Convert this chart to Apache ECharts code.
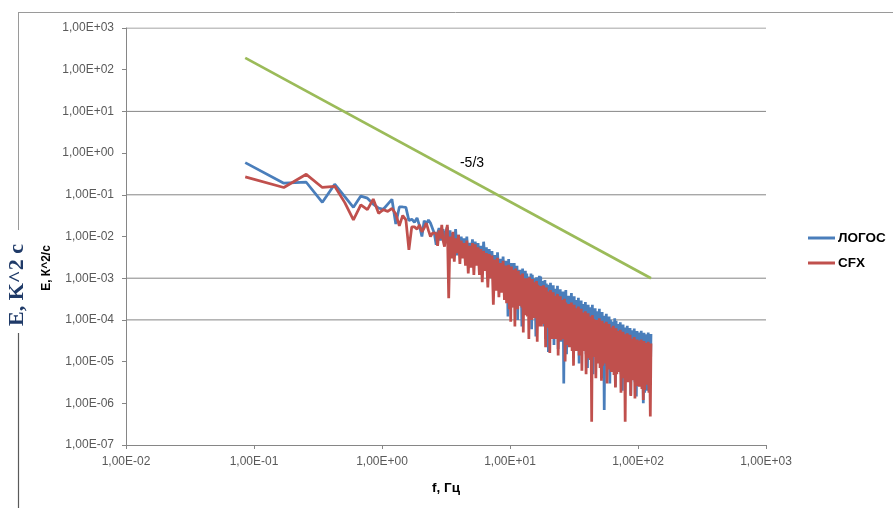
<!DOCTYPE html>
<html>
<head>
<meta charset="utf-8">
<script src="https://cdn.jsdelivr.net/npm/echarts@6/dist/echarts.min.js"></script>
<style>
  html, body { margin: 0; padding: 0; background: #ffffff; }
  #chart { width: 893px; height: 508px; }
</style>
</head>
<body>
<div id="chart"></div>
<script>
// Spectrum frequencies, Hz (first 30 are the raw FFT bins, above that a thinned set)
const freqHz = [
  0.0854, 0.171, 0.256, 0.342, 0.427, 0.512, 0.598, 0.683, 0.769, 0.854,
  0.940, 1.025, 1.11, 1.196, 1.281, 1.366, 1.452, 1.537, 1.623, 1.708,
  1.793, 1.879, 1.964, 2.05, 2.135, 2.22, 2.306, 2.391, 2.477, 2.562,
  2.65, 2.72, 2.79, 2.86, 2.93, 3.0, 3.08, 3.16, 3.24, 3.32,
  3.4, 3.49, 3.58, 3.67, 3.76, 3.86, 3.96, 4.06, 4.16, 4.27,
  4.38, 4.49, 4.6, 4.72, 4.84, 4.96, 5.09, 5.22, 5.35, 5.49,
  5.63, 5.77, 5.92, 6.07, 6.22, 6.38, 6.54, 6.71, 6.88, 7.05,
  7.23, 7.41, 7.6, 7.79, 7.99, 8.19, 8.4, 8.61, 8.83, 9.05,
  9.28, 9.40, 9.52, 9.64, 9.76, 9.88, 10.0, 10.13, 10.26, 10.39,
  10.52, 10.65, 10.79, 10.92, 11.06, 11.2, 11.34, 11.48, 11.63, 11.78,
  11.93, 12.08, 12.23, 12.38, 12.54, 12.7, 12.86, 13.02, 13.19, 13.35,
  13.52, 13.69, 13.87, 14.04, 14.22, 14.4, 14.58, 14.76, 14.95, 15.14,
  15.33, 15.52, 15.72, 15.92, 16.12, 16.32, 16.53, 16.74, 16.95, 17.16,
  17.38, 17.6, 17.82, 18.04, 18.27, 18.5, 18.74, 18.97, 19.21, 19.45,
  19.7, 19.95, 20.2, 20.46, 20.72, 20.98, 21.24, 21.51, 21.78, 22.06,
  22.34, 22.62, 22.9, 23.19, 23.49, 23.78, 24.08, 24.39, 24.7, 25.01,
  25.32, 25.64, 25.97, 26.3, 26.63, 26.96, 27.3, 27.65, 28.0, 28.35,
  28.71, 29.07, 29.44, 29.81, 30.19, 30.57, 30.96, 31.35, 31.75, 32.15,
  32.55, 32.96, 33.38, 33.8, 34.23, 34.66, 35.1, 35.55, 36.0, 36.45,
  36.91, 37.38, 37.85, 38.33, 38.81, 39.3, 39.8, 40.3, 40.81, 41.33,
  41.85, 42.38, 42.92, 43.46, 44.01, 44.57, 45.13, 45.7, 46.28, 46.86,
  47.45, 48.05, 48.66, 49.28, 49.9, 50.53, 51.17, 51.82, 52.47, 53.13,
  53.8, 54.48, 55.17, 55.87, 56.57, 57.29, 58.01, 58.74, 59.49, 60.24,
  61.0, 61.77, 62.55, 63.34, 64.14, 64.95, 65.77, 66.6, 67.45, 68.3,
  69.16, 70.03, 70.92, 71.81, 72.72, 73.64, 74.57, 75.51, 76.47, 77.43,
  78.41, 79.4, 80.41, 81.42, 82.45, 83.49, 84.55, 85.62, 86.7, 87.8,
  88.9, 90.03, 91.16, 92.31, 93.48, 94.66, 95.85, 97.06, 98.29, 99.53,
  100.8, 102.1, 103.4, 104.7, 106.0, 107.3, 108.7, 110.0, 111.4, 112.8,
  114.3, 115.7, 117.2, 118.7, 120.2, 121.7, 123.2, 124.8, 126.3
];

// Energy spectrum E, K^2/c — ЛОГОС
const logosE = [
  0.59, 0.19, 0.20, 0.066, 0.18, 0.09, 0.05, 0.093, 0.083, 0.06,
  0.048, 0.045, 0.06, 0.078, 0.02, 0.051, 0.051, 0.05, 0.024, 0.026,
  0.022, 0.028, 0.018, 0.01, 0.024, 0.02, 0.025, 0.021, 0.021, 0.012,
  6.3e-3, 1.2e-2, 1.6e-2, 8e-3, 1.2e-2, 1.5e-2, 7e-3, 1.3e-2, 1.7e-2, 9e-3,
  1.4e-2, 4.5e-3, 1.2e-2, 6e-3, 1.5e-2, 3.5e-3, 1.1e-2, 5e-3, 1.0e-2, 4e-3,
  9e-3, 3e-3, 1.0e-2, 2e-3, 7e-3, 3.5e-3, 8.5e-3, 2.5e-3, 7.5e-3, 3e-3,
  7e-3, 2e-3, 6e-3, 1.5e-3, 7.5e-3, 2.5e-3, 5.5e-3, 1.2e-3, 5e-3, 2e-3,
  4.5e-3, 9e-4, 3.6e-3, 6e-4, 4.2e-3, 1e-3, 2.9e-3, 5e-4, 3.3e-3, 8e-4,
  2.6e-3, 4e-4, 1.5e-3, 1.2e-4, 2.9e-3, 8e-4, 2.0e-3, 3e-4, 2.3e-3, 2e-4,
  1.9e-3, 6e-4, 2.3e-3, 2.2e-4, 1.2e-3, 3.5e-4, 2.0e-3, 1e-4, 1.6e-3, 3e-4,
  1.6e-3, 2.2e-4, 1.0e-3, 7e-5, 1.7e-3, 4.5e-4, 1.3e-3, 1.6e-4, 1.5e-3, 2.2e-4,
  1.3e-3, 4e-4, 1.1e-3, 1.4e-4, 8e-4, 2e-4, 1.3e-3, 6e-5, 1.2e-3, 1.7e-4,
  1.0e-3, 1.3e-4, 6e-4, 4e-5, 1.05e-3, 3e-4, 8.5e-4, 1.1e-4, 1.15e-3, 1.2e-4,
  1.1e-3, 9e-5, 8.5e-4, 2.5e-4, 5.5e-4, 7e-5, 9e-4, 3.5e-5, 7.5e-4, 8e-5,
  7e-4, 1.7e-5, 6.5e-4, 1.5e-4, 7.8e-4, 4.5e-5, 4.2e-4, 7e-5, 6.8e-4, 2.5e-5,
  5.6e-4, 1.2e-4, 5e-4, 5.5e-5, 6.6e-4, 2e-5, 3.6e-4, 6e-5, 5.4e-4, 3e-5,
  4.5e-4, 3.5e-5, 4.8e-4, 3e-6, 4.2e-4, 1e-4, 5.2e-4, 1.5e-5, 3e-4, 4.5e-5,
  3.8e-4, 2.8e-5, 2.5e-4, 8e-5, 4.4e-4, 2.5e-5, 3.3e-4, 1.2e-5, 3.7e-4, 2.6e-5,
  3e-4, 6e-5, 2.7e-4, 2.8e-5, 3.4e-4, 9e-6, 1.9e-4, 2.5e-5, 2.9e-4, 1.9e-5,
  2.4e-4, 1.8e-5, 1.6e-4, 5e-5, 2.7e-4, 1.5e-5, 2.1e-4, 7e-6, 2.3e-4, 1.7e-5,
  2e-4, 1.4e-5, 1.8e-4, 4e-5, 2.3e-4, 5e-6, 1.3e-4, 1.6e-5, 1.9e-4, 1.3e-5,
  1.6e-4, 3.5e-5, 1.1e-4, 1.3e-5, 1.85e-4, 1e-5, 1.45e-4, 4e-6, 1.55e-4, 9e-6,
  1.25e-4, 6.9e-7, 1.15e-4, 2.5e-5, 1.4e-4, 8e-6, 8e-5, 1.1e-5, 1.2e-4, 3e-6,
  1e-4, 2e-5, 9.2e-5, 8.5e-6, 6.5e-5, 6e-6, 1.1e-4, 2.5e-6, 9.5e-5, 6.5e-6,
  8e-5, 5.6e-6, 5.2e-5, 1.6e-5, 8.8e-5, 5e-6, 7.2e-5, 2e-6, 7.8e-5, 5e-6,
  6.6e-5, 4.5e-6, 6.2e-5, 1.3e-5, 7.2e-5, 4e-6, 4.4e-5, 5e-6, 6.4e-5, 1.6e-6,
  5.6e-5, 1e-5, 5.2e-5, 4.5e-6, 6.2e-5, 3.2e-6, 3.8e-5, 1.45e-6, 5.4e-5, 3.8e-6,
  5e-5, 3.2e-6, 3.4e-5, 9e-6, 5.5e-5, 2.8e-6, 4.6e-5, 1e-6, 4.9e-5, 1.8e-6,
  4.5e-5, 8e-6, 4.2e-5, 2e-6, 5e-5, 2.5e-6, 3.6e-5, 3e-6, 4.6e-5
];

// Energy spectrum E, K^2/c — CFX
const cfxE = [
  0.27, 0.15, 0.31, 0.15, 0.16, 0.065, 0.025, 0.057, 0.044, 0.079,
  0.036, 0.044, 0.04, 0.047, 0.035, 0.018, 0.032, 0.025, 0.0048, 0.017,
  0.017, 0.015, 0.019, 0.013, 0.016, 0.021, 0.014, 0.01, 0.012, 0.012,
  1.2e-2, 6e-3, 1.4e-2, 9e-3, 1.9e-2, 8e-3, 5.7e-3, 1.2e-2, 1.9e-2, 3.3e-4,
  1.0e-2, 3e-3, 1.3e-2, 2.5e-3, 9e-3, 4e-3, 1.1e-2, 2.2e-3, 8e-3, 3e-3,
  7e-3, 2e-3, 8e-3, 1.3e-3, 6e-3, 1.8e-3, 7e-3, 1.2e-3, 6.5e-3, 2e-3,
  5.5e-3, 1.2e-3, 5e-3, 8e-4, 4.5e-3, 1.5e-3, 4e-3, 6e-4, 3.8e-3, 1e-3,
  3.5e-3, 2.3e-4, 2.8e-3, 5e-4, 3.1e-3, 3.5e-4, 2.3e-3, 4.5e-4, 2.6e-3, 3e-4,
  2.0e-3, 2.5e-4, 1.2e-3, 6e-4, 2.1e-3, 1.8e-4, 1.6e-3, 9e-5, 1.9e-3, 2.2e-4,
  1.6e-3, 2e-4, 1.4e-3, 7e-5, 1.7e-3, 4.5e-4, 9e-4, 1.8e-4, 1.5e-3, 2.2e-4,
  1.2e-3, 3.5e-4, 1.05e-3, 2e-4, 1.3e-3, 5e-5, 1.0e-3, 1.7e-4, 7.5e-4, 1.3e-4,
  1.0e-3, 1.2e-4, 9e-4, 3.5e-5, 1.05e-3, 3e-4, 6e-4, 1e-4, 9.5e-4, 1.1e-4,
  8e-4, 2.2e-4, 7.2e-4, 1.1e-4, 8.6e-4, 3e-5, 7e-4, 9e-5, 5e-4, 7e-5,
  6.5e-4, 7e-5, 5.8e-4, 1.8e-4, 6.8e-4, 8e-5, 4e-4, 2.2e-5, 6e-4, 6.5e-5,
  4.8e-4, 1.2e-4, 4.3e-4, 1.6e-5, 5.2e-4, 5.5e-5, 3e-4, 3.5e-5, 4.6e-4, 5e-5,
  3.8e-4, 3.5e-5, 3.4e-4, 1.1e-4, 4.2e-4, 1.4e-5, 2.4e-4, 4e-5, 3.7e-4, 3.2e-5,
  3e-4, 8e-5, 2.7e-4, 3.5e-5, 3.2e-4, 1e-5, 2.6e-4, 3e-5, 1.9e-4, 2.5e-5,
  2.4e-4, 2.2e-5, 2.2e-4, 7e-5, 2.6e-4, 1.8e-5, 1.5e-4, 8e-6, 2.3e-4, 2e-5,
  1.9e-4, 1.8e-5, 1.75e-4, 5.5e-5, 2.1e-4, 1.4e-5, 1.2e-4, 2e-5, 1.85e-4, 6e-6,
  1.5e-4, 4e-5, 1.35e-4, 1.8e-5, 1.6e-4, 5e-6, 9e-5, 1.5e-5, 1.45e-4, 1.2e-5,
  1.2e-4, 1.1e-5, 1.1e-4, 3.6e-7, 1.3e-4, 3e-5, 1.05e-4, 1.3e-5, 8e-5, 4e-6,
  1e-4, 9e-6, 6.5e-5, 2.8e-5, 1.1e-4, 7e-6, 8.8e-5, 3.5e-6, 9.5e-5, 8e-6,
  8.3e-5, 2.2e-5, 7.5e-5, 9e-6, 9e-5, 3e-6, 5.2e-5, 8e-6, 8e-5, 6.5e-6,
  6.6e-5, 5.6e-6, 6e-5, 1.8e-5, 7.2e-5, 4.8e-6, 4.2e-5, 2.4e-6, 6.3e-5, 5e-6,
  5.4e-5, 1.3e-5, 5e-5, 5.6e-6, 5.8e-5, 1.8e-6, 3.5e-5, 5e-6, 5.2e-5, 4e-6,
  4.5e-5, 3.6e-7, 4.2e-5, 1.2e-5, 4.8e-5, 3.2e-6, 3e-5, 4e-6, 4.4e-5, 1.5e-6,
  3.5e-5, 9e-6, 3.2e-5, 3.6e-6, 3.9e-5, 1.3e-6, 2.4e-5, 3.2e-6, 3.4e-5, 2.6e-6,
  3.2e-5, 2.5e-6, 2.2e-5, 8e-6, 3.4e-5, 2.2e-6, 2.8e-5, 1.2e-6, 3.1e-5, 2.1e-6,
  2.8e-5, 7e-6, 2.6e-5, 2.8e-6, 3e-5, 1.8e-6, 2e-5, 4.8e-7, 2.7e-5
];

// Reference -5/3 slope line: end points [f, E]
const slopeFreq = [0.0854, 126.3];
const slopeE = [192, 1.0e-3];

// Axis ranges and the decades that carry a horizontal grid line
const xRange = [1e-2, 1e3];
const yRange = [1e-7, 1e3];
const gridDecades = [1e3, 1e1, 1e-1, 1e-3, 1e-4];

const seriesNames = ['ЛОГОС', 'CFX'];
const slopeText = '-5/3';

// Excel style scientific label: 1,00E+03
function sciLabel(v) {
  const e = Math.round(Math.log10(v));
  const a = Math.abs(e);
  return '1,00E' + (e < 0 ? '-' : '+') + (a < 10 ? '0' : '') + a;
}

const pairs = (xs, ys) => xs.map((x, i) => [x, ys[i]]);

const axisGray = '#868686';
const labelGray = '#595959';
const baseFont = '"Liberation Sans", Arial, sans-serif';

// horizontal grid lines, each spanning the full x range
const gridSeries = gridDecades.map(v => ({
  type: 'line',
  data: [[xRange[0], v], [xRange[1], v]],
  showSymbol: false,
  symbol: 'none',
  silent: true,
  z: 1,
  lineStyle: { color: axisGray, width: 1 },
  itemStyle: { color: axisGray }
}));

const chart = echarts.init(document.getElementById('chart'), null, { renderer: 'canvas' });

chart.setOption({
  animation: false,
  backgroundColor: '#ffffff',
  grid: { left: 126, right: 127, top: 28, bottom: 63, containLabel: false },
  legend: {
    data: seriesNames,
    orient: 'vertical',
    left: 808,
    top: 231,
    padding: 0,
    itemWidth: 27,
    itemHeight: 3,
    itemGap: 11,
    icon: 'rect',
    textStyle: { fontFamily: baseFont, fontSize: 13.5, fontWeight: 'bold', color: '#000000', padding: [0, 0, 0, -2] }
  },
  xAxis: {
    type: 'log',
    logBase: 10,
    min: xRange[0],
    max: xRange[1],
    interval: 1,
    splitNumber: 5,
    name: 'f, Гц',
    nameLocation: 'middle',
    nameGap: 36,
    nameTextStyle: { fontFamily: baseFont, fontSize: 13.5, fontWeight: 'bold', color: '#000000' },
    axisLine: { show: true, lineStyle: { color: axisGray, width: 1 } },
    axisTick: { show: true, length: 4, lineStyle: { color: axisGray } },
    splitLine: { show: false },
    minorTick: { show: false },
    axisLabel: { formatter: sciLabel, fontFamily: baseFont, fontSize: 12, color: labelGray, margin: 11 }
  },
  yAxis: {
    type: 'log',
    logBase: 10,
    min: yRange[0],
    max: yRange[1],
    interval: 1,
    splitNumber: 10,
    axisLine: { show: true, lineStyle: { color: axisGray, width: 1 } },
    axisTick: { show: true, length: 4, lineStyle: { color: axisGray } },
    splitLine: { show: false },
    minorTick: { show: false },
    axisLabel: { formatter: sciLabel, fontFamily: baseFont, fontSize: 12, color: labelGray, margin: 12 }
  },
  series: gridSeries.concat([
    {
      name: seriesNames[0],
      type: 'line',
      data: pairs(freqHz, logosE),
      showSymbol: false,
      symbol: 'none',
      z: 3,
      lineStyle: { color: '#4a7ebb', width: 2.75 },
      itemStyle: { color: '#4a7ebb' }
    },
    {
      name: seriesNames[1],
      type: 'line',
      data: pairs(freqHz, cfxE),
      showSymbol: false,
      symbol: 'none',
      z: 4,
      lineStyle: { color: '#c0504d', width: 2.75 },
      itemStyle: { color: '#c0504d' }
    },
    {
      name: 'slope',
      type: 'line',
      data: pairs(slopeFreq, slopeE),
      showSymbol: false,
      symbol: 'none',
      z: 5,
      lineStyle: { color: '#9bbb59', width: 2.75 },
      itemStyle: { color: '#9bbb59' }
    }
  ]),
  graphic: [
    // outer chart frame
    { type: 'line', silent: true, shape: { x1: 18, y1: 12.5, x2: 893, y2: 12.5 }, style: { stroke: '#9a9a9a', lineWidth: 1 } },
    { type: 'line', silent: true, shape: { x1: 18.5, y1: 12, x2: 18.5, y2: 230 }, style: { stroke: '#9a9a9a', lineWidth: 1 } },
    { type: 'line', silent: true, shape: { x1: 18.5, y1: 333, x2: 18.5, y2: 508 }, style: { stroke: '#5a5a5a', lineWidth: 1.2 } },
    // y axis title
    {
      type: 'text', silent: true, x: 47, y: 268, rotation: Math.PI / 2,
      style: { text: 'E, К^2/с', fontFamily: baseFont, fontSize: 12, fontWeight: 'bold', fill: '#000000', align: 'center', verticalAlign: 'middle' }
    },
    // large side caption
    {
      type: 'text', silent: true, x: 17, y: 285, rotation: Math.PI / 2,
      style: { text: 'E, K^2 c', fontFamily: '"Liberation Serif", "Times New Roman", serif', fontSize: 22, fontWeight: 'bold', fill: '#1f3a68', align: 'center', verticalAlign: 'middle' }
    },
    // slope annotation
    {
      type: 'text', silent: true, x: 472, y: 163,
      style: { text: slopeText, fontFamily: baseFont, fontSize: 14, fill: '#000000', align: 'center', verticalAlign: 'middle' }
    }
  ]
});
</script>
</body>
</html>
